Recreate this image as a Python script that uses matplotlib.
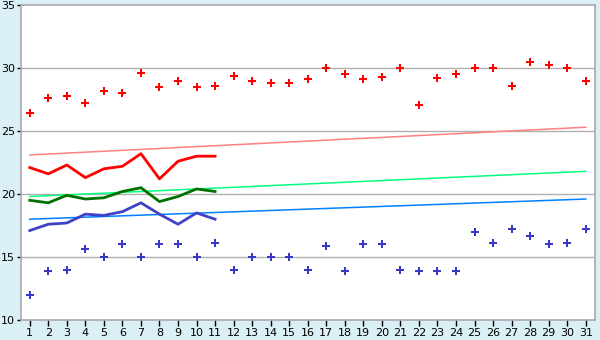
import matplotlib
matplotlib.use("Agg")
import matplotlib.pyplot as plt

days = list(range(1, 32))
max_temp = [26.4, 27.6, 27.8, 27.2, 28.2, 28.0, 29.6, 28.5, 29.0, 28.5, 28.6, 29.4, 29.0, 28.8, 28.8,
            29.1, 30.0, 29.5, 29.1, 29.3, 30.0, 27.1, 29.2, 29.5, 30.0, 30.0, 28.6, 30.5, 30.2, 30.0, 29.0]
min_temp = [12.0, 13.9, 14.0, 15.6, 15.0, 16.0, 15.0, 16.0, 16.0, 15.0, 16.1, 14.0, 15.0, 15.0, 15.0,
            14.0, 15.9, 13.9, 16.0, 16.0, 14.0, 13.9, 13.9, 13.9, 17.0, 16.1, 17.2, 16.7, 16.0, 16.1, 17.2]

cur_days = list(range(1, 12))
cur_max = [22.1, 21.6, 22.3, 21.3, 22.0, 22.2, 23.2, 21.2, 22.6, 23.0, 23.0]
cur_mean = [19.5, 19.3, 19.9, 19.6, 19.7, 20.2, 20.5, 19.4, 19.8, 20.4, 20.2]
cur_min = [17.1, 17.6, 17.7, 18.4, 18.3, 18.6, 19.3, 18.4, 17.6, 18.5, 18.0]

trend_days = [1, 31]
trend_max = [23.1, 25.3]
trend_mean = [19.8, 21.8]
trend_min = [18.0, 19.6]

yticks = [10, 15, 20, 25, 30, 35]

bg = "#daf0f6"
fig = plt.figure(figsize=(6, 3.4), dpi=100, facecolor=bg)
ax = fig.add_axes([20.5 / 600, 1 - 320 / 340, (595 - 20.5) / 600, (320 - 5) / 340])
ax.set_facecolor("white")

for y in yticks[1:-1]:
    ax.axhline(y, color="#b0b0b0", lw=1, zorder=1)

ax.plot(trend_days, trend_max, color="#ff8080", lw=1.1, zorder=2)
ax.plot(trend_days, trend_mean, color="#00ff80", lw=1.1, zorder=2)
ax.plot(trend_days, trend_min, color="#0080ff", lw=1.1, zorder=2)

ax.plot(cur_days, cur_max, color="#ff0000", lw=2, zorder=3)
ax.plot(cur_days, cur_mean, color="#007000", lw=2, zorder=3)
ax.plot(cur_days, cur_min, color="#4040c8", lw=2, zorder=3)

ax.plot(days, max_temp, ls="none", marker="P", ms=5.5, color="#ff0000", mew=0, zorder=4)
ax.plot(days, min_temp, ls="none", marker="P", ms=5.5, color="#3838c8", mew=0, zorder=4)

ax.set_xlim(0.5, 31.5)
ax.set_ylim(10, 35)
ax.set_xticks(days)
ax.set_yticks(yticks)
ax.tick_params(axis="both", labelsize=8, length=3, width=1, color="black", pad=1)
ax.tick_params(axis="x", length=4, pad=2)
for s in ax.spines.values():
    s.set_color("#a8a8a8")
    s.set_linewidth(1.2)

fig.savefig("out.png", dpi=100, facecolor=bg)
